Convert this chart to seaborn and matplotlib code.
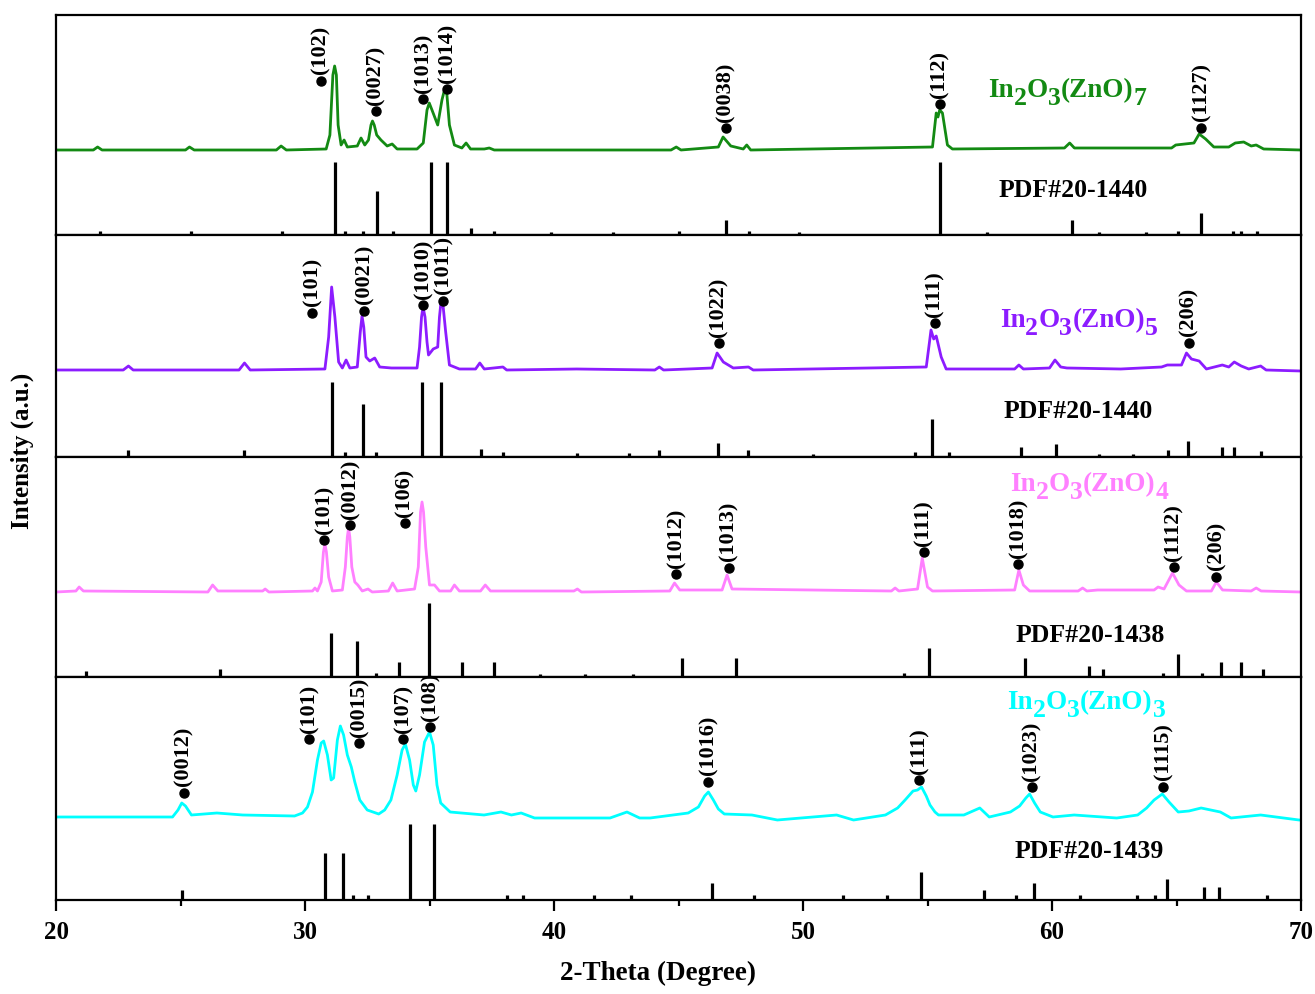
import matplotlib
matplotlib.use('Agg')
import matplotlib.pyplot as plt
import seaborn as sns

sns.set_style('white')
plt.rcParams['font.family'] = ['Liberation Serif', 'DejaVu Serif']
plt.rcParams['font.weight'] = 'bold'
plt.rcParams['axes.labelweight'] = 'bold'
plt.rcParams['text.color'] = 'black'
plt.rcParams['axes.labelcolor'] = 'black'

# ---------------- data (2-theta in degree, intensity in a.u.) ----------------
panel_heights = [220, 222, 220, 223]

# In2O3(ZnO)7 pattern
zno7_theta = [20.0, 21.5, 21.67, 21.85, 25.2, 25.36, 25.55, 28.85, 29.04, 29.25, 30.85, 31.0, 31.12, 31.19,
              31.26, 31.33, 31.45, 31.57, 31.7, 32.1, 32.25, 32.4, 32.55, 32.65, 32.71, 32.78, 32.88, 33.05,
              33.3, 33.5, 33.7, 34.5, 34.75, 34.9, 34.99, 35.1, 35.33, 35.5, 35.62, 35.7, 35.8, 36.0,
              36.3, 36.47, 36.65, 37.2, 37.4, 37.6, 44.7, 44.91, 45.1, 46.6, 46.79, 47.1, 47.6, 47.74,
              47.9, 55.2, 55.35, 55.42, 55.49, 55.6, 55.8, 56.0, 60.5, 60.71, 60.9, 64.8, 64.97, 65.7,
              65.91, 66.17, 66.5, 67.1, 67.36, 67.7, 68.0, 68.2, 68.5, 70.0]
zno7_int = [85, 85, 88, 85, 85, 88, 85, 85, 89, 85, 86, 100, 160, 169,
            160, 110, 90, 95, 88, 89, 97, 90, 95, 110, 114, 110, 100, 95,
            89, 91, 86, 86, 92, 125, 132, 125, 110, 135, 147, 140, 110, 90,
            87, 92, 86, 86, 87, 85, 85, 88, 85, 88, 98, 89, 86, 90,
            85, 88, 122, 118, 125, 122, 90, 86, 87, 92, 87, 87, 90, 92,
            101, 96, 88, 88, 92, 93, 89, 90, 86, 85]

# In2O3(ZnO)5 pattern
zno5_theta = [20.0, 22.7, 22.91, 23.1, 27.35, 27.57, 27.8, 30.8, 30.95, 31.07, 31.2, 31.35, 31.5, 31.65,
              31.8, 32.1, 32.22, 32.29, 32.36, 32.45, 32.6, 32.8, 33.0, 33.47, 34.5, 34.6, 34.68, 34.74,
              34.82, 34.9, 34.96, 35.15, 35.33, 35.4, 35.47, 35.55, 35.65, 35.8, 36.2, 36.85, 37.02, 37.2,
              37.95, 38.1, 40.91, 44.05, 44.23, 44.4, 46.35, 46.55, 46.8, 47.2, 47.81, 48.0, 54.95, 55.08,
              55.14, 55.25, 55.35, 55.55, 55.75, 58.5, 58.67, 58.85, 59.9, 60.12, 60.35, 60.6, 62.76, 64.4,
              64.63, 65.2, 65.4, 65.6, 65.91, 66.2, 66.84, 67.1, 67.32, 67.6, 67.9, 68.38, 68.6, 70.0]
zno5_int = [87, 87, 91, 87, 87, 94, 87, 88, 120, 170, 140, 95, 89, 97,
            89, 90, 125, 141, 130, 100, 96, 99, 90, 89, 89, 110, 140, 150,
            140, 115, 102, 108, 110, 140, 157, 150, 125, 92, 88, 88, 94, 88,
            90, 87, 88, 87, 90, 87, 89, 104, 95, 89, 90, 87, 90, 115,
            127, 118, 121, 100, 88, 88, 92, 88, 89, 97, 90, 89, 88, 90,
            92, 92, 104, 98, 96, 88, 92, 90, 95, 91, 88, 91, 87, 86]

# In2O3(ZnO)4 pattern
zno4_theta = [20.0, 20.8, 20.93, 21.1, 26.1, 26.29, 26.5, 28.3, 28.4, 28.55, 30.3, 30.4, 30.5, 30.65,
              30.74, 30.8, 30.86, 30.95, 31.1, 31.5, 31.62, 31.7, 31.75, 31.8, 31.88, 32.0, 32.12, 32.3,
              32.53, 32.7, 33.35, 33.52, 33.7, 34.4, 34.55, 34.64, 34.7, 34.76, 34.85, 35.0, 35.2, 35.4,
              35.85, 36.0, 36.2, 37.05, 37.24, 37.45, 40.8, 40.94, 41.1, 44.65, 44.84, 45.05, 46.75, 46.95,
              47.15, 53.55, 53.7, 53.85, 54.6, 54.79, 55.0, 55.2, 58.5, 58.67, 58.85, 59.1, 61.05, 61.23,
              61.4, 61.83, 64.1, 64.26, 64.5, 64.84, 65.1, 65.4, 66.4, 66.6, 66.85, 68.0, 68.2, 68.4,
              70.0]
zno4_int = [85, 86, 90, 86, 85, 92, 86, 86, 88, 85, 86, 89, 86, 95,
            125, 133, 125, 100, 86, 87, 110, 140, 149, 140, 110, 95, 92, 86,
            88, 85, 86, 94, 86, 88, 110, 165, 175, 165, 130, 92, 92, 86,
            86, 92, 86, 86, 92, 86, 86, 88, 85, 86, 94, 87, 87, 102,
            88, 86, 89, 86, 88, 119, 90, 86, 87, 107, 92, 86, 86, 89,
            86, 87, 87, 90, 88, 104, 92, 86, 86, 95, 87, 86, 89, 86,
            85]

# In2O3(ZnO)3 pattern
zno3_theta = [20.0, 24.68, 24.9, 25.05, 25.2, 25.44, 26.46, 27.5, 29.58, 29.9, 30.1, 30.3, 30.5, 30.65,
              30.75, 30.9, 31.05, 31.15, 31.3, 31.42, 31.55, 31.7, 31.86, 32.0, 32.2, 32.5, 32.96, 33.2,
              33.45, 33.7, 33.9, 34.03, 34.2, 34.35, 34.45, 34.6, 34.8, 35.0, 35.15, 35.3, 35.45, 35.83,
              37.19, 37.87, 38.29, 38.68, 39.22, 42.25, 42.93, 43.44, 43.86, 45.39, 45.8, 46.05, 46.2, 46.4,
              46.6, 46.84, 47.95, 48.97, 51.35, 52.03, 53.31, 53.8, 54.1, 54.42, 54.6, 54.76, 54.95, 55.1,
              55.3, 55.44, 56.46, 57.1, 57.48, 58.33, 58.7, 58.95, 59.1, 59.3, 59.53, 60.04, 60.89, 62.6,
              63.44, 63.8, 64.1, 64.43, 64.7, 65.07, 65.5, 65.99, 66.76, 67.19, 68.38, 69.92, 70.0]
zno3_int = [83, 83, 90, 97, 94, 85, 87, 85, 84, 87, 93, 108, 140, 157,
            159, 145, 120, 122, 160, 174, 165, 145, 133, 118, 100, 90, 86, 90,
            100, 125, 150, 156, 140, 115, 109, 125, 158, 168, 155, 115, 97, 88,
            85, 88, 85, 87, 82, 82, 88, 82, 82, 87, 93, 104, 108, 100,
            91, 86, 85, 80, 85, 80, 85, 92, 100, 109, 110, 113, 104, 95,
            88, 85, 85, 92, 83, 88, 94, 102, 106, 97, 88, 83, 85, 82,
            85, 92, 100, 106, 98, 88, 89, 92, 88, 82, 85, 80, 80]

# standard PDF stick patterns
pdf1440a_theta = [21.76, 25.44, 29.07, 31.22, 31.61, 32.32, 32.88, 33.52, 35.08, 35.7, 36.65, 37.61, 39.86,
                  42.35, 45.01, 46.89, 47.84, 49.85, 55.52, 57.39, 60.82, 61.9, 63.78, 65.06, 65.99, 67.27,
                  67.61, 68.25]
pdf1440a_int = [4, 4, 4, 73, 4, 4, 44, 4, 73, 73, 7, 4, 3,
                3, 4, 15, 4, 3, 73, 3, 15, 3, 3, 4, 22, 4,
                4, 4]
pdf1440b_theta = [22.91, 27.57, 31.07, 31.6, 32.32, 32.85, 34.7, 35.45, 37.07, 37.95, 40.91, 43.02, 44.23,
                  46.59, 47.81, 50.42, 54.5, 55.18, 55.86, 58.76, 60.16, 61.9, 63.27, 64.67, 65.45, 66.84,
                  67.32, 68.41]
pdf1440b_int = [7, 7, 75, 5, 53, 5, 75, 75, 8, 5, 4, 4, 7,
                14, 7, 3, 5, 38, 5, 10, 13, 3, 3, 7, 16, 10,
                10, 6]
pdf1438_theta = [21.22, 26.57, 31.05, 32.07, 32.84, 33.77, 34.99, 36.31, 37.58, 39.44, 41.25, 43.16, 45.13,
                 47.3, 54.07, 55.06, 58.93, 61.49, 62.05, 64.46, 65.07, 66.03, 66.8, 67.61, 68.47]
pdf1438_int = [6, 8, 44, 36, 4, 15, 74, 15, 15, 3, 3, 3, 19,
               19, 4, 29, 19, 11, 8, 4, 23, 4, 15, 15, 8]
pdf1439_theta = [25.05, 30.8, 31.53, 31.92, 32.54, 34.23, 35.2, 38.13, 38.77, 41.59, 43.1, 46.33, 48.03,
                 51.61, 53.39, 54.72, 57.26, 58.54, 59.27, 61.14, 63.4, 64.12, 64.6, 66.12, 66.71, 68.64]
pdf1439_int = [10, 47, 47, 5, 5, 76, 76, 5, 5, 5, 5, 17, 5,
               5, 5, 28, 10, 5, 17, 5, 5, 5, 21, 13, 13, 5]

# peak indexing labels
hkl7 = ['(102)', '(0027)', '(1013)', '(1014)', '(0038)', '(112)', '(1127)']
hkl7_x = [30.63, 32.84, 34.74, 35.72, 46.89, 55.49, 65.99]
hkl7_y = [154.3, 124, 136, 145.7, 106.7, 130.7, 107.3]
hkl5 = ['(101)', '(0021)', '(1010)', '(1011)', '(1022)', '(111)', '(206)']
hkl5_x = [30.29, 32.37, 34.74, 35.55, 46.61, 55.3, 65.49]
hkl5_y = [144.3, 146.3, 152, 156.3, 113.7, 133.7, 114.3]
hkl4 = ['(101)', '(0012)', '(106)', '(1012)', '(1013)', '(111)', '(1018)', '(1112)', '(206)']
hkl4_x = [30.77, 31.81, 34.01, 44.91, 47.01, 54.84, 58.64, 64.89, 66.6]
hkl4_y = [137, 152, 153.7, 103, 109.3, 124.7, 112.7, 109.7, 100.3]
hkl3 = ['(0012)', '(101)', '(0015)', '(107)', '(108)', '(1016)', '(111)', '(1023)', '(1115)']
hkl3_x = [25.13, 30.18, 32.17, 33.94, 35.02, 46.2, 54.67, 59.18, 64.47]
hkl3_y = [107.3, 160.7, 156.7, 160.7, 172.7, 118.3, 120, 112.7, 113.3]

sample_n = ['7', '5', '4', '3']
sample_colors = ['#138a13', '#8c1cff', '#ff80ff', '#00ffff']
pdf_names = ['PDF#20-1440', 'PDF#20-1440', 'PDF#20-1438', 'PDF#20-1439']

panels = [
    (zno7_theta, zno7_int, pdf1440a_theta, pdf1440a_int, hkl7, hkl7_x, hkl7_y, (57.43, 138), (57.86, 38)),
    (zno5_theta, zno5_int, pdf1440b_theta, pdf1440b_int, hkl5, hkl5_x, hkl5_y, (57.9, 130), (58.05, 39)),
    (zno4_theta, zno4_int, pdf1438_theta, pdf1438_int, hkl4, hkl4_x, hkl4_y, (58.33, 186), (58.54, 35)),
    (zno3_theta, zno3_int, pdf1439_theta, pdf1439_int, hkl3, hkl3_x, hkl3_y, (58.21, 191), (58.5, 42)),
]

# ---------------- figure ----------------
fig = plt.figure(figsize=(13.15, 9.94), dpi=100)
gs = fig.add_gridspec(4, 1, height_ratios=panel_heights, hspace=0,
                      left=56 / 1315, right=1301 / 1315, top=1 - 15 / 994, bottom=1 - 900 / 994)
renderer = fig.canvas.get_renderer()


def formula(ax, x, y, parts, color, size):
    off = 0.0
    for txt, sub in parts:
        t = ax.annotate(txt, xy=(x, y), xycoords='data', xytext=(off, -6 if sub else 0),
                        textcoords='offset points', ha='left', va='baseline', color=color,
                        fontsize=size * (0.95 if sub else 1.0), fontweight='bold',
                        annotation_clip=False)
        bb = t.get_window_extent(renderer)
        off += bb.width * 72.0 / fig.dpi


axes = []
for i, (th, inten, pth, pint, hkl, hx, hy, sample_pos, pdf_pos) in enumerate(panels):
    ax = fig.add_subplot(gs[i])
    axes.append(ax)
    ax.set_xlim(20, 70)
    ax.set_ylim(0, panel_heights[i])
    sns.lineplot(x=th, y=inten, ax=ax, color=sample_colors[i], linewidth=2.0, estimator=None)
    ax.vlines(pth, 0, pint, color='black', linewidth=2.3)
    ax.plot(hx, hy, 'o', color='black', markersize=6.5, zorder=5)
    for lab, xx, yy in zip(hkl, hx, hy):
        ax.annotate(lab, xy=(xx, yy), xycoords='data', xytext=(0, 4.5), textcoords='offset points',
                    rotation=90, ha='center', va='bottom', fontsize=16, fontweight='bold',
                    color='black', annotation_clip=False)
    formula(ax, sample_pos[0], sample_pos[1],
            [('In', False), ('2', True), ('O', False), ('3', True), ('(ZnO)', False), (sample_n[i], True)],
            sample_colors[i], 19.5)
    ax.text(pdf_pos[0], pdf_pos[1], pdf_names[i], ha='left', va='baseline', fontsize=18.5,
            fontweight='bold', color='black')
    ax.set_yticks([])
    ax.set_ylabel('')
    ax.set_xlabel('')
    for s in ax.spines.values():
        s.set_visible(True)
        s.set_color('black')
        s.set_linewidth(1.6)
    if i < 3:
        ax.set_xticks([])
        ax.tick_params(axis='x', which='both', bottom=False, labelbottom=False)

ax = axes[-1]
ax.set_xticks([20, 30, 40, 50, 60, 70])
ax.set_xticks([25, 35, 45, 55, 65], minor=True)
ax.tick_params(axis='x', which='major', direction='out', length=8, width=1.6, pad=7,
               labelsize=18, bottom=True, colors='black')
ax.tick_params(axis='x', which='minor', direction='out', length=4, width=1.6, bottom=True, colors='black')
for lab in ax.get_xticklabels():
    lab.set_fontweight('bold')
    lab.set_color('black')
ax.set_xlabel('2-Theta (Degree)', fontsize=19.5, fontweight='bold', labelpad=12, x=0.4835, color='black')

fig.text(22 / 1315, 1 - 451 / 994, 'Intensity (a.u.)', rotation=90, ha='center', va='center',
         fontsize=18, fontweight='bold', color='black')

fig.savefig('out.png', dpi=100)
